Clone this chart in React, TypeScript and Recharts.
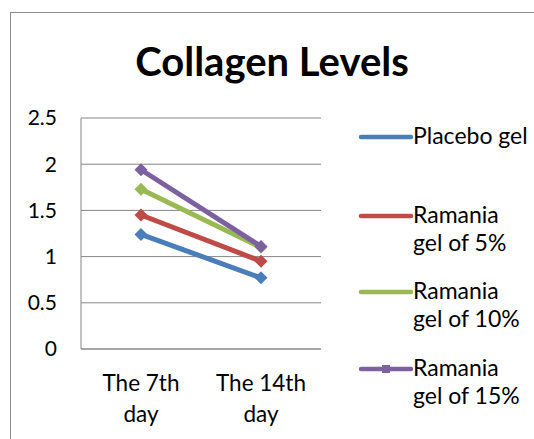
import React from 'react';
import { LineChart, Line, XAxis, YAxis, CartesianGrid, Legend } from 'recharts';

const categories = ['The 7th day', 'The 14th day'];
const categoryLines: string[][] = [['The 7th', 'day'], ['The 14th', 'day']];
const placebo = [1.24, 0.77];
const ramania5 = [1.45, 0.95];
const ramania10 = [1.73, 1.1];
const ramania15 = [1.94, 1.11];
const yTicks = [0, 0.5, 1, 1.5, 2, 2.5];

const seriesKeys = ['placebo', 'r5', 'r10', 'r15'];
const seriesNames = ['Placebo gel', 'Ramania gel of 5%', 'Ramania gel of 10%', 'Ramania gel of 15%'];
const legendLines: string[][] = [['Placebo gel'], ['Ramania', 'gel of 5%'], ['Ramania', 'gel of 10%'], ['Ramania', 'gel of 15%']];
const seriesColors = ['#4A7EBB', '#BE4B48', '#98B954', '#7D60A0'];
const seriesValues = [placebo, ramania5, ramania10, ramania15];

const data = categories.map((c, i) => {
  const row: Record<string, number | string> = { name: c, idx: i };
  seriesKeys.forEach((k, j) => {
    row[k] = seriesValues[j][i];
  });
  return row;
});

const FONT = 'Lato, "Open Sans", sans-serif';

const Diamond = (props: any) => {
  const { cx, cy, fill } = props;
  if (cx == null || cy == null) return null;
  const r = 6.5;
  return <polygon points={`${cx},${cy - r} ${cx + r},${cy} ${cx},${cy + r} ${cx - r},${cy}`} fill={fill} />;
};

const XTick = (props: any) => {
  const { x, y, payload } = props;
  const lines = categoryLines[payload.index] || [String(payload.value)];
  return (
    <text x={x} y={y} textAnchor="middle" fill="#000" fontSize={22.5} fontFamily={FONT}>
      {lines.map((l, i) => (
        <tspan key={i} x={x} y={y + 40 + i * 31}>{l}</tspan>
      ))}
    </text>
  );
};

const LegendContent = () => (
  <div style={{ position: 'relative', width: 180, height: 300, fontFamily: FONT, fontSize: 23, color: '#000' }}>
    {seriesNames.map((n, i) => {
      const top = [0, 79, 155, 232][i];
      return (
        <div key={n} style={{ position: 'absolute', left: 0, top }}>
          <svg width={56} height={12} style={{ position: 'absolute', left: 2, top: 9 }}>
            <line x1={3} y1={6} x2={53} y2={6} stroke={seriesColors[i]} strokeWidth={4.5} strokeLinecap="round" />
            {i === 3 && <rect x={24} y={2} width={8} height={8} fill={seriesColors[i]} />}
          </svg>
          <div style={{ position: 'absolute', left: 57, top: -1, lineHeight: '28px', whiteSpace: 'nowrap' }}>
            {legendLines[i].map((l, k) => (
              <div key={k}>{l}</div>
            ))}
          </div>
        </div>
      );
    })}
  </div>
);

export default function App() {
  return (
    <div style={{ position: 'absolute', left: 0, top: 0, width: 534, height: 439, overflow: 'hidden', background: '#fff' }}>
      <div style={{ position: 'absolute', left: 10, top: 12, width: 600, height: 600, border: '1px solid #8c8c8c', boxSizing: 'border-box' }} />
      <div style={{ position: 'absolute', left: 10, top: 35, width: 524, textAlign: 'center', fontFamily: FONT, fontWeight: 700, fontSize: 40, lineHeight: '52px', color: '#000' }}>
        Collagen Levels
      </div>
      <LineChart width={534} height={439} data={data} margin={{ top: 118, right: 33, bottom: 0, left: 0 }}>
        <CartesianGrid vertical={false} stroke="#868686" strokeWidth={1} />
        <XAxis
          dataKey="name"
          height={90}
          axisLine={{ stroke: '#868686' }}
          tickLine={false}
          tickSize={0}
          tick={<XTick />}
          interval={0}
          padding={{ left: 60, right: 60 }}
        />
        <YAxis
          width={81}
          domain={[0, 2.5]}
          ticks={yTicks}
          axisLine={{ stroke: '#868686' }}
          tickLine={false}
          tickSize={0}
          tickMargin={24}
          tick={{ fill: '#000', fontSize: 21, fontFamily: FONT }}
        />
        <Legend
          layout="vertical"
          align="right"
          verticalAlign="top"
          content={<LegendContent />}
          wrapperStyle={{ left: 356, top: 122, right: 'auto', width: 180, height: 300 }}
        />
        {seriesKeys.map((k, i) => (
          <Line
            key={k}
            dataKey={k}
            name={seriesNames[i]}
            stroke={seriesColors[i]}
            strokeWidth={5}
            dot={<Diamond fill={seriesColors[i]} />}
            activeDot={false}
            isAnimationActive={false}
          />
        ))}
      </LineChart>
    </div>
  );
}
